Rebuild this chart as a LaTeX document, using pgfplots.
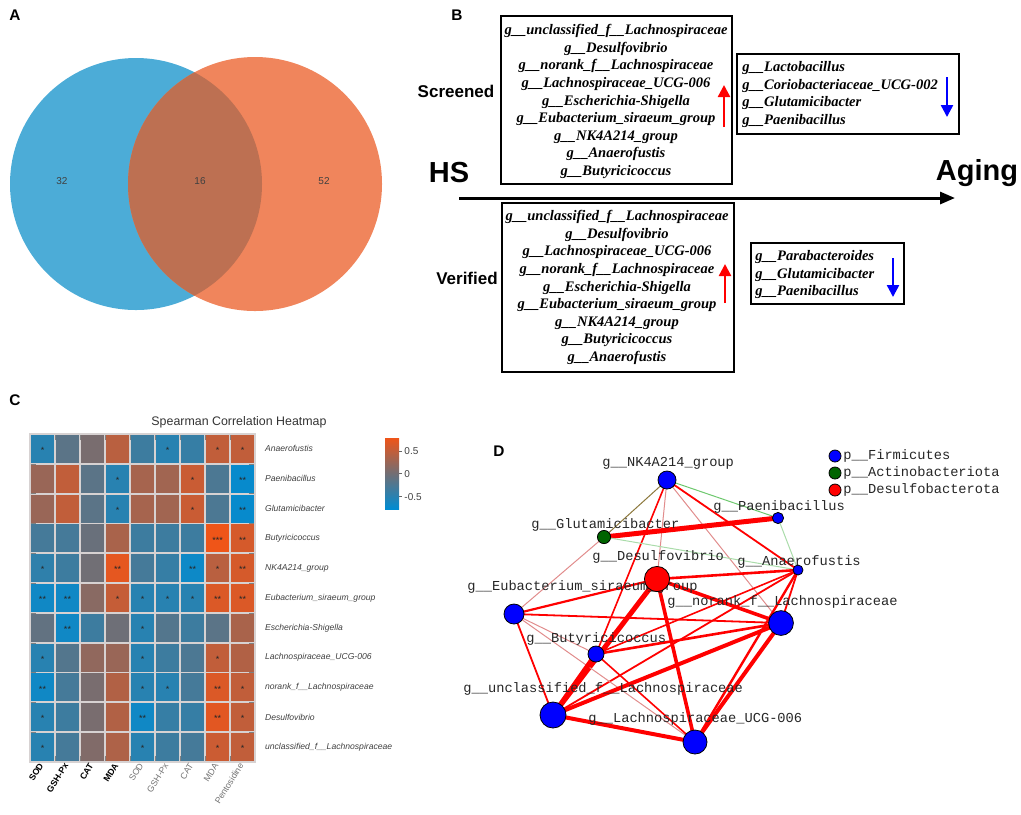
\documentclass[border=0pt]{standalone}
\usepackage{fontspec}
\setmainfont{Liberation Sans}
\newfontfamily\tms{Liberation Serif}
\newfontfamily\mono{Liberation Mono}
\usepackage{pgfplots}
\usepackage{pgfplotstable}
\pgfplotsset{compat=1.18}
\usetikzlibrary{arrows.meta}
\definecolor{vblue}{RGB}{76,172,215}
\definecolor{vorange}{RGB}{240,133,92}
\definecolor{vover}{RGB}{189,112,82}
\definecolor{nblue}{RGB}{0,0,255}
\definecolor{ngreen}{RGB}{0,100,0}
\definecolor{nred}{RGB}{255,0,0}
\definecolor{olive2}{RGB}{140,120,60}
\definecolor{lgreen}{RGB}{110,200,110}
\definecolor{pgreen}{RGB}{170,220,170}
\definecolor{pink2}{RGB}{225,140,140}
\definecolor{gridc}{RGB}{215,210,210}
\pgfplotsset{colormap={hm}{rgb255(0cm)=(0,140,210); rgb255(1cm)=(115,110,115); rgb255(2cm)=(242,84,22)}}
\pgfplotsset{edge/.style={mark=none, line cap=round}}
\newcommand{\bfs}[1]{\fontsize{#1}{#1}\selectfont}
\pgfplotstableread{
x y c
0 0 -0.5
1 0 -0.15
2 0 0.05
3 0 0.45
4 0 -0.35
5 0 -0.5
6 0 -0.4
7 0 0.5
8 0 0.5
0 1 0.25
1 1 0.5
2 1 -0.15
3 1 -0.5
4 1 0.33
5 1 0.3
6 1 0.55
7 1 -0.25
8 1 -0.72
0 2 0.25
1 2 0.5
2 2 -0.15
3 2 -0.5
4 2 0.33
5 2 0.3
6 2 0.55
7 2 -0.25
8 2 -0.72
0 3 -0.3
1 3 -0.3
2 3 -0.05
3 3 0.35
4 3 -0.35
5 3 -0.35
6 3 -0.35
7 3 0.78
8 3 0.62
0 4 -0.45
1 4 -0.35
2 4 0.0
3 4 0.72
4 4 -0.3
5 4 -0.4
6 4 -0.68
7 4 0.45
8 4 0.62
0 5 -0.66
1 5 -0.66
2 5 0.15
3 5 0.52
4 5 -0.5
5 5 -0.5
6 5 -0.5
7 5 0.66
8 5 0.66
0 6 -0.1
1 6 -0.66
2 6 -0.35
3 6 -0.02
4 6 -0.5
5 6 -0.2
6 6 -0.35
7 6 -0.15
8 6 0.35
0 7 -0.5
1 7 -0.2
2 7 0.2
3 7 0.25
4 7 -0.5
5 7 -0.35
6 7 -0.25
7 7 0.5
8 7 0.4
0 8 -0.66
1 8 -0.3
2 8 0.05
3 8 0.4
4 8 -0.5
5 8 -0.5
6 8 -0.3
7 8 0.66
8 8 0.5
0 9 -0.5
1 9 -0.35
2 9 0.05
3 9 0.4
4 9 -0.66
5 9 -0.4
6 9 -0.4
7 9 0.7
8 9 0.5
0 10 -0.5
1 10 -0.3
2 10 0.1
3 10 0.38
4 10 -0.5
5 10 -0.35
6 10 -0.3
7 10 0.56
8 10 0.5
}\heat
\pgfplotstableread{
x y s
0 0 *
5 0 *
7 0 *
8 0 *
3 1 *
6 1 *
8 1 **
3 2 *
6 2 *
8 2 **
7 3 ***
8 3 **
0 4 *
3 4 **
6 4 **
7 4 *
8 4 **
0 5 **
1 5 **
3 5 *
4 5 *
5 5 *
6 5 *
7 5 **
8 5 **
1 6 **
4 6 *
0 7 *
4 7 *
7 7 *
0 8 **
4 8 *
5 8 *
7 8 **
8 8 *
0 9 *
4 9 **
7 9 **
8 9 *
0 10 *
4 10 *
7 10 *
8 10 *
}\stars
\begin{document}
\begin{tikzpicture}
\useasboundingbox (0,0) rectangle (510.5pt,-407pt);
\begin{axis}[name=canvas, at={(0,0)}, anchor=north west, scale only axis,
  width=510.5pt, height=407pt, xmin=0, xmax=1021, ymin=0, ymax=814,
  y dir=reverse, hide axis, clip=false]
% ---------- Panel A: Venn
\fill[vblue] (axis cs:136,184) circle[radius=63pt];
\fill[vorange] (axis cs:255,184) circle[radius=63.5pt];
\begin{scope}
\clip (axis cs:136,184) circle[radius=63pt];
\fill[vover] (axis cs:255,184) circle[radius=63.5pt];
\end{scope}
\node[font=\bfs{5}, text=black!75] at (axis cs:62,181) {32};
\node[font=\bfs{5}, text=black!75] at (axis cs:200,181) {16};
\node[font=\bfs{5}, text=black!75] at (axis cs:324,181) {52};
% panel letters
\node[font=\bfs{7.7}\bfseries] at (axis cs:15,15.5) {A};
\node[font=\bfs{7.7}\bfseries] at (axis cs:457,15.5) {B};
\node[font=\bfs{7.7}\bfseries] at (axis cs:15,400) {C};
\node[font=\bfs{7.7}\bfseries] at (axis cs:499,451) {D};
% ---------- Panel B
\node[font=\bfs{8.5}\bfseries] at (axis cs:456,91) {Screened};
\node[font=\bfs{8.5}\bfseries] at (axis cs:467,278) {Verified};
\node[font=\bfs{14.5}\bfseries] at (axis cs:449,173) {HS};
\node[font=\bfs{14.5}\bfseries] at (axis cs:977,173) {Aging};
\draw[line width=1.5pt, -{Triangle[length=7.5pt,width=6pt]}] (axis cs:459,198) -- (axis cs:955,198);
\draw[line width=1pt] (axis cs:501,16) rectangle (axis cs:732,184);
\draw[line width=1pt] (axis cs:737,54) rectangle (axis cs:959,134);
\draw[line width=1pt] (axis cs:502,203) rectangle (axis cs:734,372);
\draw[line width=1pt] (axis cs:751,243) rectangle (axis cs:904,304);
\node[align=center, font=\tms\bfseries\itshape\fontsize{7.27}{8.8}\selectfont] at (axis cs:616,101.5) {g\_\_unclassified\_f\_\_Lachnospiraceae\\g\_\_Desulfovibrio\\g\_\_norank\_f\_\_Lachnospiraceae\\g\_\_Lachnospiraceae\_UCG-006\\g\_\_Escherichia-Shigella\\g\_\_Eubacterium\_siraeum\_group\\g\_\_NK4A214\_group\\g\_\_Anaerofustis\\g\_\_Butyricicoccus};
\node[align=center, font=\tms\bfseries\itshape\fontsize{7.27}{8.8}\selectfont] at (axis cs:617,287.5) {g\_\_unclassified\_f\_\_Lachnospiraceae\\g\_\_Desulfovibrio\\g\_\_Lachnospiraceae\_UCG-006\\g\_\_norank\_f\_\_Lachnospiraceae\\g\_\_Escherichia-Shigella\\g\_\_Eubacterium\_siraeum\_group\\g\_\_NK4A214\_group\\g\_\_Butyricicoccus\\g\_\_Anaerofustis};
\node[align=left, anchor=west, inner sep=0pt, font=\tms\bfseries\itshape\fontsize{7.27}{8.8}\selectfont] at (axis cs:742,94.5) {g\_\_Lactobacillus\\g\_\_Coriobacteriaceae\_UCG-002\\g\_\_Glutamicibacter\\g\_\_Paenibacillus};
\node[align=left, anchor=west, inner sep=0pt, font=\tms\bfseries\itshape\fontsize{7.27}{8.8}\selectfont] at (axis cs:755,274.5) {g\_\_Parabacteroides\\g\_\_Glutamicibacter\\g\_\_Paenibacillus};
\draw[red, line width=1.2pt, -{Triangle[length=6pt,width=6pt]}] (axis cs:724,127) -- (axis cs:724,85);
\draw[red, line width=1.2pt, -{Triangle[length=6pt,width=6pt]}] (axis cs:725,303) -- (axis cs:725,264);
\draw[nblue, line width=1.2pt, -{Triangle[length=6pt,width=6pt]}] (axis cs:947,77) -- (axis cs:947,117);
\draw[nblue, line width=1.2pt, -{Triangle[length=6pt,width=6pt]}] (axis cs:893,258) -- (axis cs:893,297);
% ---------- Panel C title
\node[font=\bfs{6.2}, text=black!80] at (axis cs:239,422) {Spearman Correlation Heatmap};
% ---------- Panel D: network edges
\addplot[edge, olive2, line width=0.5pt] coordinates {(667,480) (604,537)};
\addplot[edge, lgreen, line width=0.5pt] coordinates {(667,480) (778,518)};
\addplot[edge, pink2, line width=0.5pt] coordinates {(667,480) (657,579)};
\addplot[edge, nred, line width=0.8pt] coordinates {(667,480) (596,654)};
\addplot[edge, pink2, line width=0.5pt] coordinates {(667,480) (781,623)};
\addplot[edge, nred, line width=0.9pt] coordinates {(667,480) (798,570)};
\addplot[edge, nred, line width=2.5pt] coordinates {(604,537) (778,518)};
\addplot[edge, pgreen, line width=0.5pt] coordinates {(604,537) (798,570)};
\addplot[edge, pink2, line width=0.5pt] coordinates {(604,537) (514,614)};
\addplot[edge, pgreen, line width=0.5pt] coordinates {(778,518) (798,570)};
\addplot[edge, nred, line width=1.3pt] coordinates {(657,579) (798,570)};
\addplot[edge, nred, line width=1.1pt] coordinates {(657,579) (514,614)};
\addplot[edge, nred, line width=1.8pt] coordinates {(657,579) (781,623)};
\addplot[edge, nred, line width=2.5pt] coordinates {(657,579) (553,715)};
\addplot[edge, nred, line width=1.8pt] coordinates {(657,579) (695,742)};
\addplot[edge, nred, line width=0.8pt] coordinates {(798,570) (596,654)};
\addplot[edge, nred, line width=0.9pt] coordinates {(798,570) (553,715)};
\addplot[edge, nred, line width=1.2pt] coordinates {(798,570) (695,742)};
\addplot[edge, nred, line width=0.9pt] coordinates {(798,570) (781,623)};
\addplot[edge, nred, line width=0.9pt] coordinates {(514,614) (781,623)};
\addplot[edge, nred, line width=0.9pt] coordinates {(514,614) (553,715)};
\addplot[edge, pink2, line width=0.5pt] coordinates {(514,614) (695,742)};
\addplot[edge, pink2, line width=0.5pt] coordinates {(514,614) (596,654)};
\addplot[edge, nred, line width=1.3pt] coordinates {(596,654) (781,623)};
\addplot[edge, nred, line width=2.5pt] coordinates {(596,654) (553,715)};
\addplot[edge, nred, line width=0.8pt] coordinates {(596,654) (695,742)};
\addplot[edge, nred, line width=2pt] coordinates {(553,715) (781,623)};
\addplot[edge, nred, line width=2pt] coordinates {(553,715) (695,742)};
\addplot[edge, nred, line width=2pt] coordinates {(781,623) (695,742)};
% nodes
\addplot[only marks, mark=*, mark size=4.5pt, mark options={draw=none, fill=nblue}] coordinates {(667,480)};
\addplot[only marks, mark=*, mark size=2.8pt, mark options={draw=none, fill=nblue}] coordinates {(778,518)};
\addplot[only marks, mark=*, mark size=3.3pt, mark options={draw=none, fill=ngreen}] coordinates {(604,537)};
\addplot[only marks, mark=*, mark size=6.3pt, mark options={draw=none, fill=nred}] coordinates {(657,579)};
\addplot[only marks, mark=*, mark size=2.5pt, mark options={draw=none, fill=nblue}] coordinates {(798,570)};
\addplot[only marks, mark=*, mark size=5pt, mark options={draw=none, fill=nblue}] coordinates {(514,614)};
\addplot[only marks, mark=*, mark size=6.2pt, mark options={draw=none, fill=nblue}] coordinates {(781,623)};
\addplot[only marks, mark=*, mark size=4pt, mark options={draw=none, fill=nblue}] coordinates {(596,654)};
\addplot[only marks, mark=*, mark size=6.5pt, mark options={draw=none, fill=nblue}] coordinates {(553,715)};
\addplot[only marks, mark=*, mark size=6pt, mark options={draw=none, fill=nblue}] coordinates {(695,742)};
% legend
\addplot[only marks, mark=*, mark size=3pt, mark options={draw=none, fill=nblue}] coordinates {(835,456)};
\addplot[only marks, mark=*, mark size=3pt, mark options={draw=none, fill=ngreen}] coordinates {(835,473)};
\addplot[only marks, mark=*, mark size=3pt, mark options={draw=none, fill=nred}] coordinates {(835,490)};
\tikzset{nl/.style={anchor=west, inner sep=0pt, font=\mono\bfs{6.85}, text=black!85}}
\node[nl] at (axis cs:843,456) {p\_\_Firmicutes};
\node[nl] at (axis cs:843,473) {p\_\_Actinobacteriota};
\node[nl] at (axis cs:843,490) {p\_\_Desulfobacterota};
% labels
\node[nl] at (axis cs:602,463) {g\_\_NK4A214\_group};
\node[nl] at (axis cs:531,525) {g\_\_Glutamicibacter};
\node[nl] at (axis cs:592,557) {g\_\_Desulfovibrio};
\node[nl] at (axis cs:467,587) {g\_\_Eubacterium\_siraeum\_group};
\node[nl] at (axis cs:667,602) {g\_\_norank\_f\_\_Lachnospiraceae};
\node[nl] at (axis cs:713,507) {g\_\_Paenibacillus};
\node[nl] at (axis cs:737,562) {g\_\_Anaerofustis};
\node[nl] at (axis cs:526,639) {g\_\_Butyricicoccus};
\node[nl] at (axis cs:463,689) {g\_\_unclassified\_f\_\_Lachnospiraceae};
\node[nl] at (axis cs:588,719) {g\_\_Lachnospiraceae\_UCG-006};
\end{axis}
% ---------- Panel C heatmap
\begin{axis}[at={(15pt,-217pt)}, anchor=north west, scale only axis,
  width=112.5pt, height=164pt,
  xmin=-0.5, xmax=8.5, ymin=-0.5, ymax=10.5, y dir=reverse,
  colormap name=hm, point meta min=-0.77, point meta max=0.8,
  xtick={0,...,8}, ytick={0,...,10},
  xticklabels={\textbf{SOD},\textbf{GSH-Px},\textbf{CAT},\textbf{MDA},\textcolor{black!55}{SOD},\textcolor{black!55}{GSH-Px},\textcolor{black!55}{CAT},\textcolor{black!55}{MDA},\textcolor{black!55}{Pentosidine}},
  yticklabels={Anaerofustis,Paenibacillus,Glutamicibacter,Butyricicoccus,NK4A214\_group,Eubacterium\_siraeum\_group,Escherichia-Shigella,Lachnospiraceae\_UCG-006,norank\_f\_\_Lachnospiraceae,Desulfovibrio,unclassified\_f\_\_Lachnospiraceae},
  yticklabel pos=right,
  major tick length=0pt,
  xticklabel style={rotate=58, anchor=east, font=\bfs{4.4}, inner sep=1pt},
  yticklabel style={anchor=west, font=\itshape\bfs{4.3}, text=black!75, xshift=1.5pt},
  minor xtick={0.5,1.5,...,7.5}, minor ytick={0.5,1.5,...,9.5},
  xminorgrids, yminorgrids,
  minor grid style={gridc, line width=0.9pt},
  axis on top,
  axis line style={gridc, line width=0.9pt},
  colorbar,
  colorbar style={at={(parent axis.north east)}, anchor=north west,
    xshift=56.5pt, yshift=-1.5pt, width=7pt, height=36pt,
    ytick={-0.5,0,0.5}, yticklabels={-0.5,0,0.5}, ytick pos=right, yticklabel pos=right,
    yticklabel style={font=\bfs{5}, text=black!75, inner sep=1pt},
    axis line style={draw=none}, major tick length=1.5pt, tick align=outside,
    tick style={black!60}},
]
\addplot[matrix plot*, mesh/cols=9, point meta=explicit] table[x=x, y=y, meta=c] {\heat};
\addplot[draw=none, mark=none, nodes near coords={\pgfplotspointmeta}, point meta=explicit symbolic,
  every node near coord/.append style={anchor=center, font=\bfs{4.5}, text=black!85, yshift=-0.8pt, inner sep=0pt}]
  table[x=x, y=y, meta=s] {\stars};
\end{axis}
\end{tikzpicture}
\end{document}
